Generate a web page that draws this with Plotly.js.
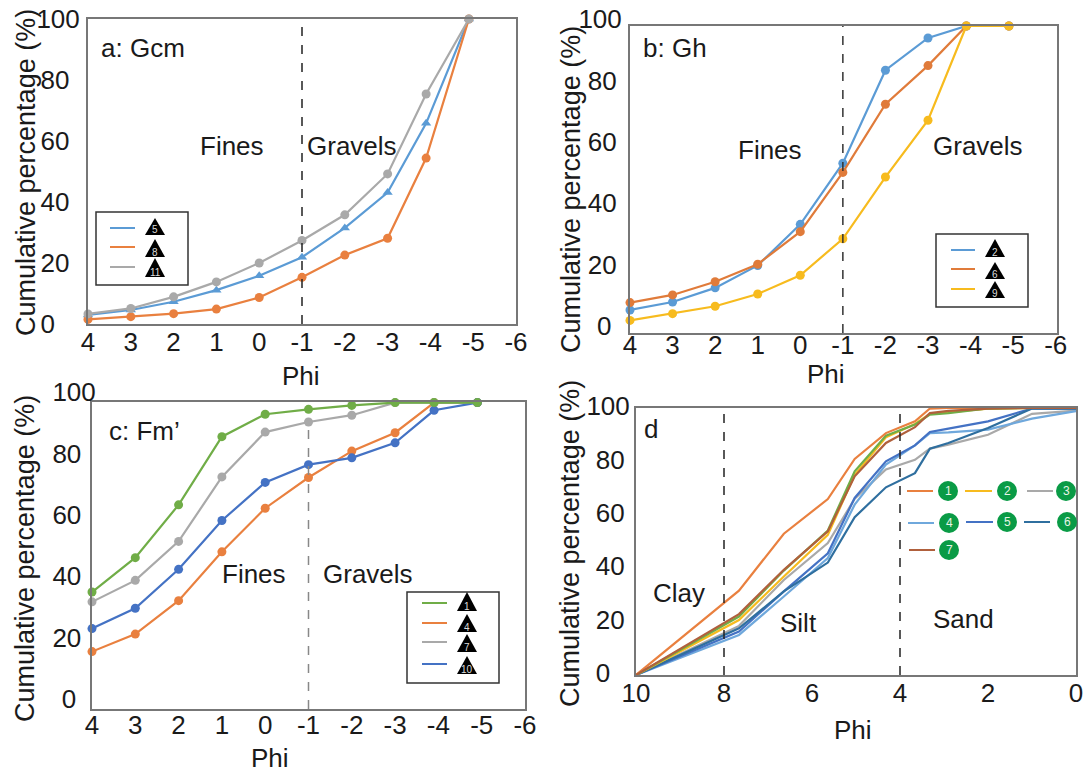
<!DOCTYPE html>
<html>
<head>
<meta charset="utf-8">
<script src="https://cdn.plot.ly/plotly-3.0.1.min.js"></script>
<style>html,body{margin:0;padding:0;background:#fff}</style>
</head>
<body>
<div id="chart" style="width:1088px;height:775px"></div>
<script>
// ---------- data ----------
const phiCoarse = [4, 3, 2, 1, 0, -1, -2, -3, -3.9, -4.9];
const phiFine = [10, 7.66, 6.64, 5.64, 5.03, 4.32, 3.66, 3.32, 2.9, 2, 1, 0];

const a5  = [2.95, 4.6, 7.3, 11.1, 15.8, 21.9, 31.5, 43.1, 65.8, 100];
const a8  = [1.5, 2.4, 3.4, 4.9, 8.7, 15.3, 22.6, 28.1, 54.4, 100];
const a11 = [3.3, 5.1, 8.9, 13.8, 20, 27.4, 35.8, 49.2, 75.4, 100];

const b2 = [7.5, 10.1, 14.7, 22, 35.4, 55.3, 85.6, 96.1, 100, 100];
const b6 = [9.9, 12.4, 16.7, 22.4, 33, 52.3, 74.5, 87.1, 100, 100];
const b9 = [4.1, 6.3, 8.7, 12.7, 18.8, 30.7, 50.8, 69.3, 100, 100];

const c1  = [38.1, 49.3, 66.5, 88.7, 96, 97.6, 98.9, 99.8, 99.8, 99.8];
const c4  = [18.7, 24.4, 35.3, 51.2, 65.4, 75.4, 84, 90, 99.8, 99.8];
const c7  = [34.9, 41.9, 54.6, 75.6, 90.2, 93.5, 95.7, 99.8, 99.8, 99.8];
const c10 = [26.2, 32.8, 45.5, 61.4, 73.8, 79.6, 81.8, 86.7, 97.3, 99.8];

const d1 = [0, 31.6, 52.9, 65.9, 80.9, 90.6, 95, 99.8, 100, 100, 100, 100];
const d2 = [0, 20.6, 36.9, 52.5, 75, 89, 94, 97.8, 98.4, 99.8, 100, 100];
const d3 = [0, 18.4, 35.6, 49.4, 66, 77, 80.6, 84.8, 86.3, 90, 97.8, 99];
const d4 = [0, 15, 29.4, 43.8, 63.8, 78.8, 86, 90.6, 90.9, 91.9, 96, 98.8];
const d5 = [0, 16.3, 31.3, 45.6, 66.3, 80, 86, 91, 92.3, 95, 99.8, 99.8];
const d6 = [0, 17.5, 31.3, 42.1, 59.1, 70.3, 75.6, 84.8, 86.9, 92.5, 99.8, 99.8];
const d7 = [0, 22.8, 39.4, 53.8, 74.4, 86.9, 92.8, 98.1, 98.9, 99.8, 100, 100];
const dGreen = [0, 21.9, 39.1, 54.1, 76.3, 89.6, 93.8, 97.5, 98.1, 99.8, 100, 100];

const xTicksCoarse = [4, 3, 2, 1, 0, -1, -2, -3, -4, -5, -6];
const xTicksFine = [10, 8, 6, 4, 2, 0];
const yTicks = [0, 20, 40, 60, 80, 100];

// ---------- styling ----------
const W = 1088, H = 775;
const BLUE = '#5b9bd5', ORANGE = '#e9803f', GRAY = '#a9a9a9', YELLOW = '#f7bb1e',
      GREEN = '#70ad47', ROYAL = '#4472c4', LIGHT = '#6fa8dc', STEEL = '#2f6f9f', BROWN = '#b0603c',
      BADGE = '#0a9b46', TXT = '#1a1a1a';
const FONT = '"Liberation Sans", Arial, sans-serif';
const FS = 26;
const THIN = '\u2009', FIG = '\u2007';

const px = x => x / W;
const py = y => 1 - y / H;

const rects = {
  a: {l: 88, r: 516, t: 19, b: 324},
  b: {l: 630, r: 1057, t: 26, b: 333},
  c: {l: 92, r: 525, t: 402, b: 709},
  d: {l: 636, r: 1076, t: 408, b: 675}
};

function line(name, x, y, color, xa, ya, symbol, width) {
  const t = {type: 'scatter', name, x, y, xaxis: xa, yaxis: ya, cliponaxis: false,
    mode: symbol ? 'lines+markers' : 'lines',
    line: {color, width: width || 2.2}};
  if (symbol) t.marker = {color, size: 9, symbol};
  return t;
}

const traces = [
  line('5', phiCoarse, a5, BLUE, 'x', 'y', 'triangle-up'),
  line('8', phiCoarse, a8, ORANGE, 'x', 'y', 'circle'),
  line('11', phiCoarse, a11, GRAY, 'x', 'y', 'circle'),

  line('2', phiCoarse, b2, BLUE, 'x2', 'y2', 'circle'),
  line('6', phiCoarse, b6, '#e07b3a', 'x2', 'y2', 'circle'),
  line('9', phiCoarse, b9, YELLOW, 'x2', 'y2', 'circle'),

  line('4', phiCoarse, c4, ORANGE, 'x3', 'y3', 'circle'),
  line('7', phiCoarse, c7, GRAY, 'x3', 'y3', 'circle'),
  line('10', phiCoarse, c10, ROYAL, 'x3', 'y3', 'circle'),
  line('1', phiCoarse, c1, GREEN, 'x3', 'y3', 'circle'),

  line('3', phiFine, d3, GRAY, 'x4', 'y4'),
  line('4', phiFine, d4, LIGHT, 'x4', 'y4'),
  line('5', phiFine, d5, ROYAL, 'x4', 'y4'),
  line('6', phiFine, d6, STEEL, 'x4', 'y4'),
  line('2', phiFine, d2, YELLOW, 'x4', 'y4'),
  line('', phiFine, dGreen, GREEN, 'x4', 'y4'),
  line('1', phiFine, d1, ORANGE, 'x4', 'y4'),
  line('7', phiFine, d7, BROWN, 'x4', 'y4')
];

function xAxis(rect, range, ticks, anchor, standoff) {
  return {domain: [px(rect.l), px(rect.r)], range, anchor, tickmode: 'array', tickvals: ticks,
    ticktext: ticks.map(String), ticks: '', showgrid: false, zeroline: false, showline: true, mirror: true,
    linecolor: '#777', linewidth: 2, tickfont: {family: FONT, size: FS, color: TXT},
    ticklabelstandoff: standoff};
}
// pad2 / pad1: trailing spacing that nudges the two-digit and the one-digit labels to the left
function yAxis(rect, anchor, shift, standoff, pad2, pad1) {
  return {domain: [py(rect.b), py(rect.t)], range: [0, 100], anchor, tickmode: 'array', tickvals: yTicks,
    ticktext: yTicks.map(v => String(v) + (v === 100 ? '' : v === 0 ? pad1 : pad2)),
    ticks: '', showgrid: false, zeroline: false, showline: true, mirror: true,
    linecolor: '#777', linewidth: 2, tickfont: {family: FONT, size: FS, color: TXT},
    ticklabelshift: shift, ticklabelstandoff: standoff};
}

const shapes = [];
const annotations = [];

function text(t, x, y, opts) {
  annotations.push(Object.assign({text: t, xref: 'paper', yref: 'paper', x: px(x), y: py(y),
    showarrow: false, xanchor: 'center', yanchor: 'middle',
    font: {family: FONT, size: FS, color: TXT}}, opts || {}));
}
function dash(xa, ya, x, top, color) {
  shapes.push({type: 'line', xref: xa, yref: ya, x0: x, x1: x, y0: 0, y1: top,
    line: {color, width: 1.5, dash: 'dash'}});
}
function box(l, t, r, b) {
  shapes.push({type: 'rect', xref: 'paper', yref: 'paper', x0: px(l), x1: px(r), y0: py(b), y1: py(t),
    fillcolor: '#fff', line: {color: '#333', width: 1.5}});
}
function keyLine(x0, x1, y, color) {
  shapes.push({type: 'line', xref: 'paper', yref: 'paper', x0: px(x0), x1: px(x1), y0: py(y), y1: py(y),
    line: {color, width: 2}});
}
function triangle(cx, top, bottom, label) {
  const hw = 10;
  shapes.push({type: 'path', xref: 'paper', yref: 'paper', fillcolor: '#000', line: {color: '#000', width: 0},
    path: `M ${px(cx)} ${py(top)} L ${px(cx + hw)} ${py(bottom)} L ${px(cx - hw)} ${py(bottom)} Z`});
  text(label, cx, bottom - 5, {font: {family: FONT, size: 10, color: '#ddd'}});
}
function badge(cx, cy, label) {
  const r = 10;
  shapes.push({type: 'circle', xref: 'paper', yref: 'paper', x0: px(cx - r), x1: px(cx + r),
    y0: py(cy + r), y1: py(cy - r), fillcolor: BADGE, line: {color: BADGE, width: 0}});
  text(label, cx, cy, {font: {family: FONT, size: 12, color: '#e8f5e8'}});
}

// reference lines
dash('x', 'y', -1, 100, '#222');
dash('x2', 'y2', -1, 100, '#333');
dash('x3', 'y3', -1, 93, '#888');
dash('x4', 'y4', 8, 100, '#222');
dash('x4', 'y4', 4, 100, '#222');

// panel labels
text('a: Gcm', 99, 48, {xanchor: 'left'});
text('Fines', 232, 146);
text('Gravels', 352, 146);
text('b: Gh', 641, 48, {xanchor: 'left'});
text('Fines', 770, 150);
text('Gravels', 978, 146);
text('c: Fm’', 107, 431, {xanchor: 'left'});
text('Fines', 254, 574);
text('Gravels', 368, 574);
text('d', 642, 429, {xanchor: 'left'});
text('Clay', 679, 593);
text('Silt', 798, 623);
text('Sand', 963, 619);

// axis titles
const YT = 'Cumulative percentage (%)';
const TITLE_FONT = {family: FONT, size: 27, color: TXT};
text(YT, 26, 173, {textangle: -90, font: TITLE_FONT});
text(YT, 571, 190, {textangle: -90, font: TITLE_FONT});
text(YT, 25, 559, {textangle: -90, font: TITLE_FONT});
text(YT, 570, 544, {textangle: -90, font: TITLE_FONT});
text('Phi', 301, 376);
text('Phi', 826, 374);
text('Phi', 270, 758);
text('Phi', 853, 730);

// legend a
box(96, 212, 188, 285);
keyLine(110, 135, 228, BLUE);  triangle(155, 218, 235, '5');
keyLine(110, 135, 247, ORANGE); triangle(155, 239, 257, '8');
keyLine(110, 135, 267, GRAY);  triangle(155, 258, 277, '11');
// legend b
box(936, 234, 1028, 307);
keyLine(951, 975, 250, BLUE);  triangle(995, 239, 257, '2');
keyLine(951, 975, 269, '#e07b3a'); triangle(995, 262, 279, '6');
keyLine(951, 975, 289, YELLOW); triangle(995, 281, 298, '9');
// legend c
box(407, 592, 499, 683);
keyLine(422, 447, 603, GREEN);  triangle(467, 592, 611, '1');
keyLine(422, 447, 623, ORANGE); triangle(467, 614, 632, '4');
keyLine(422, 447, 642, GRAY);   triangle(467, 634, 652, '7');
keyLine(422, 447, 664, ROYAL);  triangle(467, 656, 674, '10');
// legend d
keyLine(907, 933, 491, ORANGE); badge(948, 491, '1');
keyLine(965, 992, 491, YELLOW); badge(1007, 491, '2');
keyLine(1027, 1053, 491, GRAY); badge(1066, 491, '3');
keyLine(908, 934, 523, LIGHT);  badge(949, 523, '4');
keyLine(966, 993, 522, ROYAL);  badge(1007, 522, '5');
keyLine(1024, 1050, 522, STEEL); badge(1067, 522, '6');
keyLine(909, 935, 550, BROWN);  badge(949, 550, '7');

const layout = {
  width: W, height: H, margin: {l: 0, r: 0, t: 0, b: 0},
  paper_bgcolor: '#fff', plot_bgcolor: 'rgba(0,0,0,0)', showlegend: false,
  font: {family: FONT, color: TXT},
  xaxis:  xAxis(rects.a, [4, -6], xTicksCoarse, 'y', -6),
  yaxis:  yAxis(rects.a, 'x', 0, 1, THIN + THIN, FIG + THIN + THIN),
  xaxis2: xAxis(rects.b, [4, -6.03], xTicksCoarse, 'y2', -12),
  yaxis2: yAxis(rects.b, 'x2', -7, 1, THIN, THIN + THIN),
  xaxis3: xAxis(rects.c, [4, -6], xTicksCoarse, 'y3', -8),
  yaxis3: yAxis(rects.c, 'x3', -10, -11, FIG, FIG + THIN),
  xaxis4: xAxis(rects.d, [10, 0], xTicksFine, 'y4', -6),
  yaxis4: yAxis(rects.d, 'x4', -2, -1, THIN, FIG + THIN),
  shapes, annotations
};

Plotly.newPlot('chart', traces, layout, {displayModeBar: false, responsive: false});
</script>
</body>
</html>
